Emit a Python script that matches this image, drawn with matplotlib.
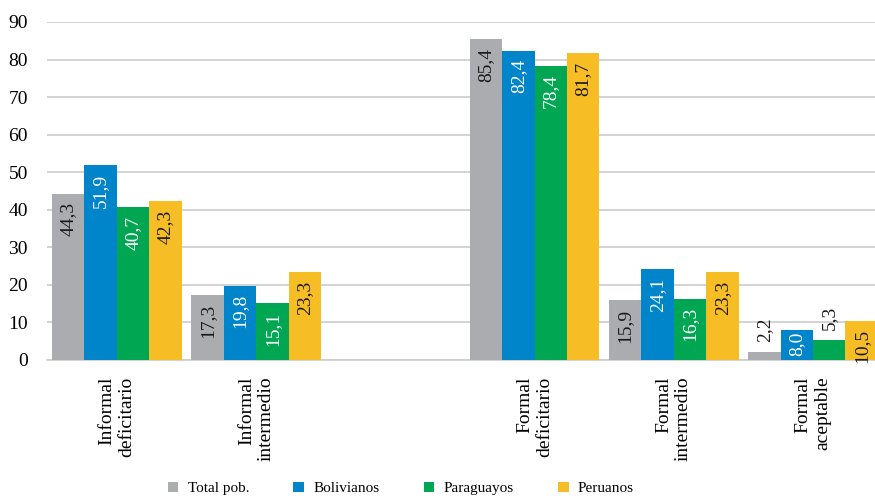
import matplotlib
matplotlib.use("Agg")
import matplotlib.pyplot as plt
from matplotlib.patches import Patch

# datos del grafico (porcentajes)
categorias = ["Informal\ndeficitario", "Informal\nintermedio", "",
              "Formal\ndeficitario", "Formal\nintermedio", "Formal\naceptable"]
posiciones = [0, 1, 3, 4, 5]
series = ["Total pob.", "Bolivianos", "Paraguayos", "Peruanos"]
total_pob = [44.3, 17.3, 85.4, 15.9, 2.2]
bolivianos = [51.9, 19.8, 82.4, 24.1, 8.0]
paraguayos = [40.7, 15.1, 78.4, 16.3, 5.3]
peruanos = [42.3, 23.3, 81.7, 23.3, 10.5]

colores = ["#AAACB0", "#0085CA", "#00A651", "#F6BE24"]
color_texto = ["#1a1a1a", "white", "white", "#1a1a1a"]

plt.rcParams["font.family"] = ["Liberation Serif", "DejaVu Serif"]

fig = plt.figure(figsize=(8.75, 5), dpi=100)
ax = fig.add_axes([0.054, 0.28, 0.946, 0.676])

ancho = 0.233
valores = [total_pob, bolivianos, paraguayos, peruanos]
for i, (nombre, vals) in enumerate(zip(series, valores)):
    xs = [p + (i - 1.5) * ancho for p in posiciones]
    ax.bar(xs, vals, width=ancho, color=colores[i], zorder=3)
    for x, v in zip(xs, vals):
        etiqueta = f"{v:.1f}".replace(".", ",")
        if v < 7:
            # barras muy bajas: etiqueta encima
            ax.annotate(etiqueta, (x, v), xytext=(0, 7), textcoords="offset points",
                        rotation=90, ha="center", va="bottom", fontsize=14,
                        color="#1a1a1a", zorder=4)
        else:
            pad = -1 if v < 9 else -6
            ax.annotate(etiqueta, (x, v), xytext=(0, pad), textcoords="offset points",
                        rotation=90, ha="center", va="top", fontsize=14,
                        color=color_texto[i], zorder=4)

ax.set_ylim(0, 90)
ax.set_xlim(-0.5, 5.445)
ax.set_yticks(range(0, 91, 10))
ax.set_xticks(range(len(categorias)))
ax.set_xticklabels(categorias, rotation=90, ha="center", va="top",
                   multialignment="right", fontsize=14)
ax.tick_params(axis="x", length=0, pad=12)
ax.tick_params(axis="y", length=0, pad=14, labelsize=14)
ax.grid(axis="y", color="#cccccc", linewidth=1.2, zorder=0)
for lado in ["top", "right", "left"]:
    ax.spines[lado].set_visible(False)
ax.spines["bottom"].set_color("#cccccc")
ax.spines["bottom"].set_linewidth(1.2)

handles = [Patch(facecolor=c, label=s) for c, s in zip(colores, series)]
fig.legend(handles=handles, loc="lower center", bbox_to_anchor=(0.458, -0.018),
           ncol=4, frameon=False, fontsize=11, handlelength=0.7, handleheight=0.7,
           handletextpad=0.6, columnspacing=2.9)

fig.savefig("out.png", dpi=100)
